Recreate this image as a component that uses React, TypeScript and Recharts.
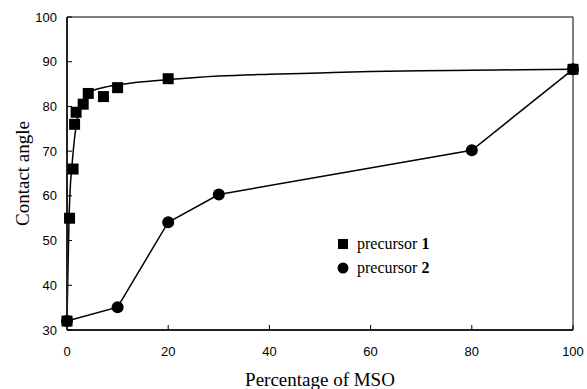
import React from "react"
import {
  ComposedChart,
  Line,
  Scatter,
  XAxis,
  YAxis,
  ReferenceLine,
  Label,
} from "recharts"

// precursor 1 – measured points (squares)
const p1X = [0, 0.5, 1.2, 1.5, 1.8, 3.2, 4.2, 7.2, 10, 20, 100]
const p1Y = [32, 55, 66, 76, 78.7, 80.5, 82.9, 82.2, 84.2, 86.2, 88.3]

// precursor 1 – fitted curve
const fitX = [0, 0.4, 0.6, 1, 1.5, 2, 2.5, 3, 4, 5, 7, 10, 15, 20, 30, 40, 50, 60, 70, 80, 90, 100]
const fitY = [32, 55, 61, 67, 73, 77, 79.5, 81, 82.8, 83.5, 84.2, 84.8, 85.5, 86, 86.8, 87.2, 87.5, 87.8, 88, 88.1, 88.2, 88.3]

// precursor 2 – points (circles), joined by straight lines
const p2X = [0, 10, 20, 30, 80, 100]
const p2Y = [32, 35.1, 54.1, 60.3, 70.2, 88.3]

const xTicks = [0, 20, 40, 60, 80, 100]
const yTicks = [30, 40, 50, 60, 70, 80, 90, 100]

const legendNames = ["precursor ", "precursor "]
const legendNums = ["1", "2"]

const zip = (xs: number[], ys: number[]) => xs.map((x, i) => ({ x, y: ys[i] }))

const p1Data = zip(p1X, p1Y)
const fitData = zip(fitX, fitY)
const p2Data = zip(p2X, p2Y)

const Square = (props: any) => {
  const { cx, cy } = props
  if (cx == null || cy == null) return null
  return <rect x={cx - 5.5} y={cy - 5.5} width={11} height={11} fill="#000" />
}

const Dot = (props: any) => {
  const { cx, cy } = props
  if (cx == null || cy == null) return null
  return <circle cx={cx} cy={cy} r={6} fill="#000" />
}

const tickStyle = { fontFamily: "'Liberation Sans', Arial, sans-serif", fontSize: 13, fill: "#000" }
const titleStyle = { fontFamily: "'Liberation Serif', 'Times New Roman', serif", fontSize: 19, fill: "#000" }

function LegendBox() {
  const row = { display: "flex", alignItems: "center", height: 24 }
  const text = { fontFamily: "'Liberation Serif', 'Times New Roman', serif", fontSize: 16, color: "#000", marginLeft: 8 }
  return (
    <div style={{ position: "absolute", left: 337, top: 232 }}>
      {legendNames.map((name, i) => (
        <div style={row} key={i}>
          <svg width={12} height={12}>
            {i === 0 ? (
              <rect x={1} y={1} width={10} height={10} fill="#000" />
            ) : (
              <circle cx={6} cy={6} r={5.5} fill="#000" />
            )}
          </svg>
          <span style={text}>
            {name}
            <b>{legendNums[i]}</b>
          </span>
        </div>
      ))}
    </div>
  )
}

export default function App() {
  return (
    <div style={{ position: "fixed", left: 0, top: 0, width: 587, height: 389, background: "#fff" }}>
      <ComposedChart width={587} height={389} margin={{ top: 17, right: 14, bottom: 0, left: 0 }}>
        <XAxis
          dataKey="x"
          type="number"
          domain={[0, 100]}
          ticks={xTicks}
          height={59}
          axisLine={{ stroke: "#222", strokeWidth: 2 }}
          tickLine={{ stroke: "#000" }}
          tickSize={-5}
          tickMargin={22}
          tick={tickStyle}
        >
          <Label value="Percentage of MSO" position="insideBottom" offset={3} style={titleStyle} />
        </XAxis>
        <YAxis
          dataKey="y"
          type="number"
          domain={[30, 100]}
          ticks={yTicks}
          width={67}
          axisLine={{ stroke: "#222", strokeWidth: 2 }}
          tickLine={{ stroke: "#000" }}
          tickSize={-5}
          tickMargin={15}
          tick={tickStyle}
        >
          <Label
            value="Contact angle"
            angle={-90}
            position="insideLeft"
            offset={22}
            style={{ ...titleStyle, textAnchor: "middle" }}
          />
        </YAxis>
        <ReferenceLine y={100} stroke="#000" strokeWidth={1} />
        <ReferenceLine x={100} stroke="#000" strokeWidth={1} />
        <Line
          data={fitData}
          dataKey="y"
          type="monotone"
          stroke="#000"
          strokeWidth={1.5}
          dot={false}
          activeDot={false}
          isAnimationActive={false}
          legendType="none"
        />
        <Scatter
          data={p2Data}
          dataKey="y"
          name="precursor 2"
          line={{ stroke: "#000", strokeWidth: 1.5 }}
          lineType="joint"
          shape={Dot}
          isAnimationActive={false}
        />
        <Scatter data={p1Data} dataKey="y" name="precursor 1" shape={Square} isAnimationActive={false} />
      </ComposedChart>
      <LegendBox />
    </div>
  )
}
